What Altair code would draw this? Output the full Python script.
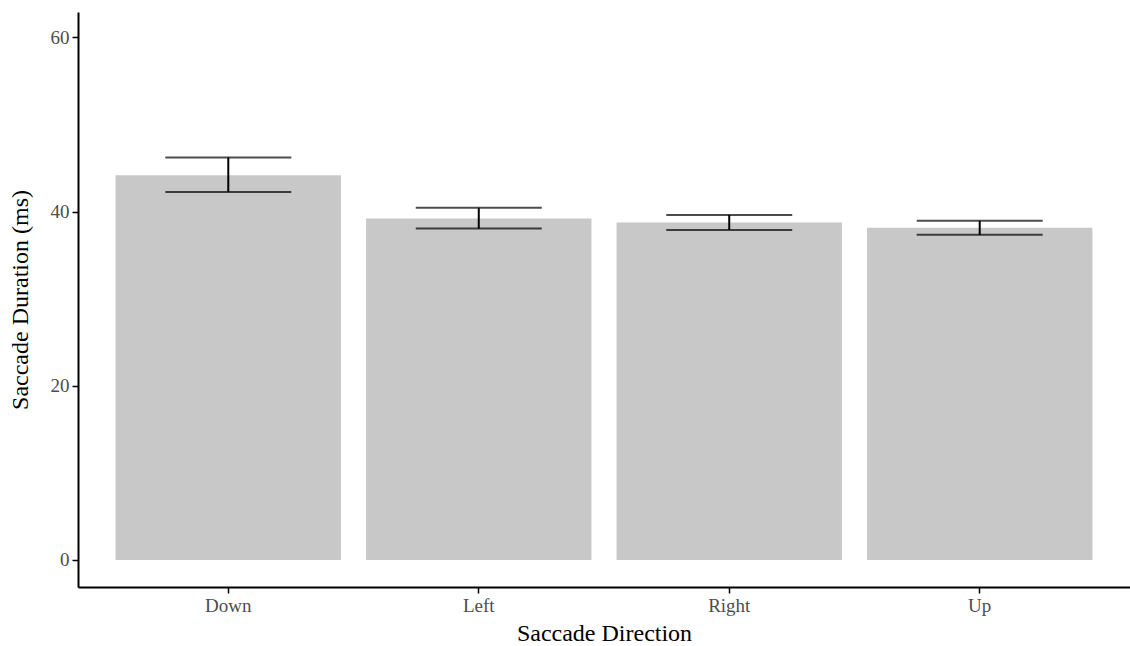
import altair as alt
import pandas as pd

# Mean saccade duration per direction with error-bar limits
directions = ["Down", "Left", "Right", "Up"]
mean_ms = [44.17, 39.2, 38.74, 38.13]
lower_ms = [42.25, 38.05, 37.89, 37.32]
upper_ms = [46.2, 40.42, 39.61, 38.93]

df = pd.DataFrame({
    "direction": directions,
    "mean": mean_ms,
    "lower": lower_ms,
    "upper": upper_ms,
})

serif = "Liberation Serif"

x_enc = alt.X(
    "direction:N",
    sort=directions,
    title="Saccade Direction",
    scale=alt.Scale(paddingInner=0.1, paddingOuter=0.15),
    axis=alt.Axis(labelAngle=0, labelPadding=3, titlePadding=6),
)
y_scale = alt.Scale(domain=[-3.1, 62.9], nice=False, zero=False)

base = alt.Chart(df)

bars = base.mark_bar(color="#C8C8C8").encode(
    x=x_enc,
    y=alt.Y(
        "mean:Q",
        scale=y_scale,
        title="Saccade Duration (ms)",
        axis=alt.Axis(values=[0, 20, 40, 60], labelPadding=3, titlePadding=18),
    ),
    y2=alt.datum(0),
)

stems = base.mark_rule(color="black", strokeWidth=2).encode(
    x=alt.X("direction:N", sort=directions),
    y=alt.Y("lower:Q", scale=y_scale),
    y2="upper:Q",
)

caps_low = base.mark_tick(color="black", size=126, thickness=2).encode(
    x=alt.X("direction:N", sort=directions),
    y=alt.Y("lower:Q", scale=y_scale),
)
caps_high = base.mark_tick(color="black", size=126, thickness=2).encode(
    x=alt.X("direction:N", sort=directions),
    y=alt.Y("upper:Q", scale=y_scale),
)

chart = (
    alt.layer(bars, stems, caps_low, caps_high)
    .properties(
        width=1052,
        height=575,
        autosize=alt.AutoSizeParams(type="none"),
        padding={"left": 78, "top": 12, "right": 0, "bottom": 59},
        background="white",
    )
    .configure_view(stroke=None)
    .configure_axis(
        grid=False,
        domainColor="black",
        domainWidth=2,
        tickColor="black",
        tickWidth=1.5,
        tickSize=6,
        labelFont=serif,
        labelFontSize=19,
        labelColor="#4D4D4D",
        titleFont=serif,
        titleFontSize=24,
        titleFontWeight="normal",
        titleColor="black",
    )
)

chart.save("out.html", embed_options={"renderer": "svg", "actions": False})
